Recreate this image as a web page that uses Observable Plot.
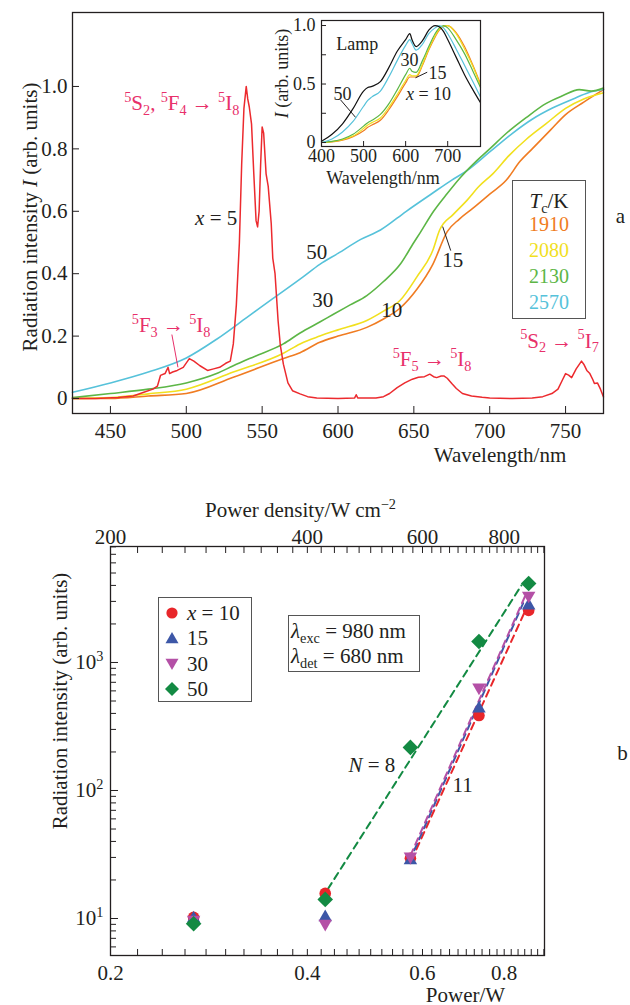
<!DOCTYPE html>
<html><head><meta charset="utf-8">
<script src="https://cdn.jsdelivr.net/npm/d3@7"></script>
<script src="https://cdn.jsdelivr.net/npm/@observablehq/plot@0.6"></script>
<style>
body{margin:0;background:#fff;}
#page{position:relative;width:630px;height:1005px;overflow:hidden;font-family:"Liberation Serif","Times New Roman",serif;color:#231f20;}
#page > svg{position:absolute;}
.box{position:absolute;border:1.3px solid #555;background:#fff;box-sizing:border-box;}
.row{position:absolute;white-space:nowrap;}
sub{font-size:0.68em;vertical-align:-0.32em;line-height:0;}
</style></head><body><div id="page"></div>
<script>
const INK = "#231f20";
const PINK = "#e8306a";
const FONT = "'Liberation Serif','Times New Roman',serif";

// ---------- (a) main spectra ----------
const wlX5 = [425,440,455,465,472,478,481,483,486,488,489,491,494,498,502,505,509,514,518,522,526,529,531,533,535,536.5,538,539.5,540.5,541.5,543,544.5,546,547,548,549,550,551,552.6,554,556,557,558.5,560.5,562,564,567,570,575,580,586,600,611,612,613,625,630,634,639,644,649,653,657,660.5,663,665,668,670,672,675,678,682,688,695,700,715,728,735,741,745,748,750,752,754,757,760.5,762,764,766,768,769,771,773,775];
const intX5 = [0,0,0.003,0.008,0.02,0.03,0.04,0.074,0.08,0.1,0.08,0.085,0.09,0.1,0.128,0.12,0.105,0.09,0.095,0.1,0.113,0.12,0.175,0.3,0.5,0.75,0.93,1.0,0.96,0.935,0.88,0.72,0.57,0.55,0.6,0.75,0.87,0.85,0.72,0.68,0.56,0.45,0.4,0.25,0.17,0.11,0.05,0.025,0.015,0.006,0.002,0,0.002,0.012,0.002,0.002,0.006,0.016,0.035,0.05,0.062,0.068,0.07,0.078,0.07,0.067,0.072,0.072,0.065,0.048,0.032,0.016,0.008,0.004,0.002,0,0.002,0.006,0.016,0.03,0.06,0.08,0.075,0.067,0.095,0.12,0.11,0.09,0.08,0.06,0.048,0.05,0.03,0.005];

const wlX50 = [425,450,475,500,520,540,557,577,588,600,615,628,645,662,675,685,700,715,728,741,755,765,775];
const intX50 = [0.02,0.05,0.085,0.13,0.19,0.26,0.32,0.39,0.43,0.465,0.51,0.54,0.6,0.657,0.7,0.73,0.79,0.85,0.895,0.93,0.96,0.98,0.99];

const wlX30 = [425,450,475,500,520,531,545,564,575,588,597,608,619,630,641,650,654,663,672,681,691,700,711,724,737,748,759,767,775];
const intX30 = [0.003,0.016,0.03,0.05,0.08,0.105,0.135,0.175,0.21,0.245,0.27,0.3,0.33,0.375,0.43,0.5,0.53,0.6,0.657,0.71,0.76,0.8,0.85,0.9,0.945,0.97,0.99,0.985,0.995];

const wlX15 = [425,450,475,500,531,564,575,588,600,619,630,641,652,662.5,667,676,685,693,702,713,724,737,750,762,775];
const intX15 = [0,0.003,0.015,0.03,0.085,0.145,0.175,0.2,0.22,0.25,0.28,0.315,0.39,0.475,0.54,0.59,0.635,0.68,0.72,0.78,0.83,0.88,0.93,0.96,0.98];

const wlX10 = [425,450,475,500,531,564,575,588,600,619,630,641,652,662.5,672,680,689,700,711,720,728,740,750,762,775];
const intX10 = [0,0,0.008,0.016,0.068,0.128,0.147,0.18,0.2,0.228,0.255,0.29,0.35,0.43,0.535,0.575,0.61,0.655,0.7,0.76,0.8,0.86,0.91,0.95,0.99];

const xTicksA = [450,500,550,600,650,700,750];
const yTicksA = [0,0.2,0.4,0.6,0.8,1.0];

// ---------- (a) inset: normalized spectra ----------
const wlInset = [400,425,450,475,500,510,520,540,560,580,600,610,615,625,640,655,670,680,690,700,720,740,760,778];
const insLamp = [0.01,0.07,0.16,0.29,0.44,0.47,0.48,0.52,0.64,0.78,0.88,0.93,0.88,0.82,0.87,0.96,1.0,0.99,0.95,0.88,0.73,0.58,0.45,0.34];
const insX50  = [0,0.03,0.09,0.18,0.31,0.36,0.39,0.44,0.56,0.7,0.83,0.88,0.85,0.79,0.84,0.93,0.98,1.0,0.98,0.93,0.8,0.66,0.52,0.39];
const insX30  = [0,0.01,0.03,0.07,0.14,0.17,0.19,0.24,0.33,0.45,0.58,0.635,0.61,0.6,0.7,0.82,0.93,0.98,1.0,0.98,0.88,0.76,0.61,0.47];
const insX15  = [0,0.008,0.025,0.055,0.12,0.15,0.17,0.21,0.3,0.41,0.53,0.58,0.57,0.57,0.67,0.8,0.91,0.97,0.995,1.0,0.93,0.8,0.65,0.49];
const insX10  = [0,0.005,0.02,0.05,0.1,0.13,0.15,0.19,0.28,0.39,0.51,0.56,0.56,0.56,0.66,0.79,0.9,0.96,0.99,1.0,0.94,0.82,0.66,0.5];
const xTicksIn = [400,500,600,700];
const yTicksIn = [0,0.25,0.5,0.75,1.0];

// ---------- (b) power dependence ----------
const powerW  = [0.268,0.426,0.575,0.732,0.872];
const intB10  = [10.2,15.7,29.5,385,2550];
const intB15  = [10.0,10.2,28.4,437,2786];
const intB30  = [9.8,9.1,30.5,638,3335];
const intB50  = [9.1,14.1,217,1459,4140];
const fitP8 = [0.43,0.85],   fitI8 = [17,4000];
const fitP10 = [0.577,0.862], fitI10 = [28.5,2550];
const fitP15 = [0.573,0.855], fitI15 = [28,2900];
const fitP30 = [0.575,0.862], fitI30 = [31,3340];
const xLabelsB = [0.2,0.4,0.6,0.8];
const yLabelsB = [10,100,1000];
const yMinorB = [6,7,8,9,20,30,40,50,60,70,80,90,200,300,400,500,600,700,800,900,2000,3000,4000,5000,6000,7000,8000];
const xMinorB = d3.range(10,47).map(i => +(i*0.02).toFixed(2));

const tempsK = ["1910","2080","2130","2570"];
const C10="#f07c22", C15="#f1e01e", C30="#5cb646", C50="#56c2da", C5="#ec2a2e";
const tempColors = [C10,C15,C30,C50];
const CB10="#e8262a", CB15="#3d57a7", CB30="#b450a6", CB50="#138a43";

// annotations (data coordinates)
const annA = [
  {x:535, y:0.946, t:"^{5}S_{2}, ^{5}F_{4} → ^{5}I_{8}", c:PINK, a:"end"},
  {x:533.6, y:0.577, t:"*x* = 5", c:INK, a:"end"},
  {x:490, y:0.234, t:"^{5}F_{3} → ^{5}I_{8}", c:PINK, a:"middle"},
  {x:586, y:0.47, t:"50", c:INK, a:"middle"},
  {x:590, y:0.314, t:"30", c:INK, a:"middle"},
  {x:635.5, y:0.282, t:"10", c:INK, a:"middle"},
  {x:675.7, y:0.442, t:"15", c:INK, a:"middle"},
  {x:662, y:0.125, t:"^{5}F_{5} → ^{5}I_{8}", c:PINK, a:"middle"},
  {x:746, y:0.184, t:"^{5}S_{2} → ^{5}I_{7}", c:PINK, a:"middle"}
];
const leadA = [
  {x1:490.5, y1:0.205, x2:494.5, y2:0.1, c:PINK},
  {x1:669, y1:0.551, x2:674.3, y2:0.474, c:INK}
];
const annIn = [
  {x:484.9, y:0.844, t:"Lamp"},
  {x:609.2, y:0.701, t:"30"},
  {x:675.8, y:0.59, t:"15"},
  {x:654.3, y:0.41, t:"*x* = 10"},
  {x:449.9, y:0.41, t:"50"}
];
const leadIn = [
  {x1:623.4, y1:0.553, x2:651.3, y2:0.601},
  {x1:445.2, y1:0.365, x2:480.8, y2:0.216}
];
const annB = [
  {x:0.502, y:156.8, t:"*N* = 8"},
  {x:0.691, y:109.4, t:"11"}
];

// ---------- helpers ----------
const page = document.getElementById("page");
const rows = (xs, ys) => xs.map((x,i) => ({x, y: ys[i]}));
function place(svg, left, top) { svg.style.left = left+"px"; svg.style.top = top+"px"; page.appendChild(svg); richify(svg); }
function richify(svg) {
  svg.querySelectorAll("text").forEach(t => {
    const s = t.textContent;
    if (!/[\^_]\{|\*/.test(s)) return;
    const fs = parseFloat(getComputedStyle(t).fontSize) || 16;
    while (t.firstChild) t.removeChild(t.firstChild);
    const re = /\^\{([^}]*)\}|_\{([^}]*)\}|\*([^*]*)\*|([^\^_*]+|[\^_*])/g;
    let shift = 0, m;
    while ((m = re.exec(s))) {
      let txt, target = 0, size = null, ital = false;
      if (m[1] !== undefined) { txt = m[1]; target = fs*0.4; size = fs*0.68; }
      else if (m[2] !== undefined) { txt = m[2]; target = -fs*0.22; size = fs*0.68; }
      else if (m[3] !== undefined) { txt = m[3]; ital = true; }
      else txt = m[4];
      const ts = document.createElementNS("http://www.w3.org/2000/svg","tspan");
      const dy = shift - target;
      if (dy) ts.setAttribute("dy", dy.toFixed(2));
      shift = target;
      if (size) ts.setAttribute("font-size", size.toFixed(2));
      if (ital) ts.setAttribute("font-style","italic");
      ts.textContent = txt;
      t.appendChild(ts);
    }
  });
}
const baseStyle = (fs) => ({fontFamily: FONT, fontSize: fs+"px", background: "transparent", color: INK, overflow: "visible"});
function annMarks(list, fs, extra={}) {
  return ["start","middle","end"].map(a => Plot.text(list.filter(d => (d.a||"middle") === a), {
    x:"x", y:"y", text:"t", fill: d => d.c || INK, textAnchor: a, lineAnchor: "middle", fontSize: fs, ...extra
  }));
}
// a free-standing label anchored to the frame, always centred on its point
const label = (txt, frameAnchor, dx, dy, fs, extra={}) => Plot.text([txt], {
  text: d => d, frameAnchor, dx, dy, fontSize: fs, fill: INK, textAnchor: "middle", lineAnchor: "middle", ...extra
});

// ---------- chart (a) ----------
const lineA = (xs, ys, color, curve="monotone-x", w=1.6) => Plot.line(rows(xs, ys), {x:"x", y:"y", stroke: color, strokeWidth: w, curve});
const plotA = Plot.plot({
  width: 630, height: 470,
  marginLeft: 72, marginRight: 27, marginTop: 12, marginBottom: 57,
  x: {domain: [425, 775]},
  y: {domain: [-0.048, 1.237]},
  color: {type: "identity"},
  style: baseStyle(21),
  marks: [
    lineA(wlX10, intX10, C10),
    lineA(wlX15, intX15, C15),
    lineA(wlX50, intX50, C50),
    lineA(wlX30, intX30, C30),
    lineA(wlX5, intX5, C5, "linear", 1.5),
    Plot.frame({stroke: INK, strokeWidth: 1.3}),
    Plot.axisX({ticks: xTicksA, anchor: "bottom", tickSize: -7, tickPadding: 17, label: null, fontSize: 21}),
    Plot.axisY({ticks: yTicksA, anchor: "left", tickSize: -7, tickPadding: 12, label: null, fontSize: 21,
      tickFormat: d => d === 0 ? "0" : d.toFixed(1)}),
    Plot.link(leadA, {x1:"x1", y1:"y1", x2:"x2", y2:"y2", stroke: d => d.c, strokeWidth: 1}),
    ...annMarks(annA, 21),
    label("Radiation intensity *I* (arb. units)", "left", -42, 4, 21, {rotate: -90}),
    label("Wavelength/nm", "bottom", 162, 42, 21),
    label("a", "right", 17, 3, 21)
  ]
});
place(plotA, 0, 0);

// ---------- inset ----------
const lineIn = (ys, color) => Plot.line(rows(wlInset, ys), {x:"x", y:"y", stroke: color, strokeWidth: 1.2, curve: "monotone-x"});
const plotIn = Plot.plot({
  width: 240, height: 195,
  marginLeft: 61, marginRight: 20, marginTop: 20, marginBottom: 49,
  x: {domain: [400, 778]},
  y: {domain: [-0.034, 1.043]},
  color: {type: "identity"},
  style: baseStyle(18),
  marks: [
    Plot.frame({fill: "white", stroke: null}),
    lineIn(insX10, C10),
    lineIn(insX15, C15),
    lineIn(insX30, C30),
    lineIn(insX50, C50),
    lineIn(insLamp, "#111"),
    Plot.frame({stroke: INK, strokeWidth: 1.2}),
    Plot.axisX({ticks: xTicksIn, anchor: "bottom", tickSize: -5, tickPadding: 8, label: null, fontSize: 18}),
    Plot.axisY({ticks: yTicksIn, anchor: "left", tickSize: -5, tickPadding: 11, label: null, fontSize: 18,
      tickFormat: d => d === 0 ? "0" : d === 0.5 ? "0.5" : d === 1 ? "1.0" : ""}),
    Plot.link(leadIn, {x1:"x1", y1:"y1", x2:"x2", y2:"y2", stroke: INK, strokeWidth: 1}),
    ...annMarks(annIn, 18),
    label("*I* (arb. units)", "left", -39, -10, 18, {rotate: -90}),
    label("Wavelength/nm", "bottom", -18, 32, 18)
  ]
});
place(plotIn, 260, 0);

// ---------- chart (b) ----------
const triDown = {draw(ctx, size) { const y = Math.sqrt(size / (Math.sqrt(3) * 3)); const s3 = Math.sqrt(3);
  ctx.moveTo(0, 2*y); ctx.lineTo(-s3*y, -y); ctx.lineTo(s3*y, -y); ctx.closePath(); }};
const diamondSq = {draw(ctx, size) { const h = Math.sqrt(size) * 0.8;
  ctx.moveTo(0, -h); ctx.lineTo(h, 0); ctx.lineTo(0, h); ctx.lineTo(-h, 0); ctx.closePath(); }};
const dash = (xs, ys, color) => Plot.line(rows(xs, ys), {x:"x", y:"y", stroke: color, strokeWidth: 2, strokeDasharray: "7,5"});
const plotB = Plot.plot({
  width: 630, height: 535,
  marginLeft: 110, marginRight: 86, marginTop: 76, marginBottom: 50,
  x: {type: "log", domain: [0.2, 0.922]},
  y: {type: "log", domain: [5.14, 8054]},
  style: baseStyle(21),
  marks: [
    dash(fitP8, fitI8, CB50),
    dash(fitP10, fitI10, CB10),
    dash(fitP15, fitI15, CB15),
    dash(fitP30, fitI30, CB30),
    Plot.dot(rows(powerW, intB10), {x:"x", y:"y", symbol: "circle", r: 5.8, fill: CB10}),
    Plot.dot(rows(powerW, intB15), {x:"x", y:"y", symbol: "triangle", r: 5, fill: CB15}),
    Plot.dot(rows(powerW, intB30), {x:"x", y:"y", symbol: triDown, r: 5, fill: CB30}),
    Plot.dot(rows(powerW, intB50), {x:"x", y:"y", symbol: diamondSq, r: 5.5, fill: CB50}),
    Plot.frame({stroke: INK, strokeWidth: 1.3}),
    Plot.axisX({ticks: xMinorB, anchor: "bottom", tickSize: -6, tickFormat: () => "", label: null}),
    Plot.axisX({ticks: xMinorB, anchor: "top", tickSize: -6, tickFormat: () => "", label: null}),
    Plot.axisX({ticks: xLabelsB, anchor: "bottom", tickSize: 0, tickPadding: 10, label: null, fontSize: 21, tickFormat: d => d.toFixed(1)}),
    Plot.axisX({ticks: xLabelsB, anchor: "top", tickSize: 0, tickPadding: 3, label: null, fontSize: 21, tickFormat: d => String(Math.round(d*1000))}),
    Plot.axisY({ticks: yMinorB, anchor: "left", tickSize: -6, tickFormat: () => "", label: null}),
    Plot.axisY({ticks: yLabelsB, anchor: "left", tickSize: -8, tickPadding: 15, label: null, fontSize: 21,
      tickFormat: d => `10^{${Math.round(Math.log10(d))}}`}),
    Plot.text(annB, {x:"x", y:"y", text:"t", fontSize: 21, fill: INK}),
    label("Radiation intensity (arb. units)", "left", -50, -50, 21, {rotate: -90}),
    label("Power density/W cm^{−2}", "top", -27, -36, 21),
    label("Power/W", "bottom", 138, 40, 21),
    label("b", "right", 78, 2, 21)
  ]
});
place(plotB, 0, 470);

// ---------- HTML legends ----------
function box(left, top, w, h) {
  const d = document.createElement("div"); d.className = "box";
  Object.assign(d.style, {left: left+"px", top: top+"px", width: w+"px", height: h+"px"});
  page.appendChild(d); return d;
}
function row(parent, html, cy, opts={}) {
  const r = document.createElement("div"); r.className = "row"; r.innerHTML = html;
  const lh = opts.lh || 24;
  Object.assign(r.style, {top: (cy - lh/2) + "px", lineHeight: lh + "px", fontSize: (opts.fs || 20) + "px"});
  if (opts.center) Object.assign(r.style, {left: "0", width: "100%", textAlign: "center"});
  else r.style.left = (opts.left || 0) + "px";
  if (opts.color) r.style.color = opts.color;
  parent.appendChild(r); return r;
}
// Tc legend
const tcBox = box(512, 180, 74, 139);
row(tcBox, "<i>T</i><sub>c</sub>/K", 20, {center: true, fs: 21});
tempsK.forEach((t, i) => row(tcBox, t, 43 + i*26, {center: true, fs: 20, color: tempColors[i]}));

// (b) legend
const seriesB = [
  {label: "<i>x</i> = 10", color: CB10, shape: "circle"},
  {label: "15", color: CB15, shape: "up"},
  {label: "30", color: CB30, shape: "down"},
  {label: "50", color: CB50, shape: "diamond"}
];
const shapeSvg = (shape, color) => {
  const p = shape === "circle" ? `<circle cx="7" cy="7" r="5.6" fill="${color}"/>`
    : shape === "up" ? `<path d="M7,1 L13.5,12.2 L0.5,12.2Z" fill="${color}"/>`
    : shape === "down" ? `<path d="M7,13 L13.5,1.8 L0.5,1.8Z" fill="${color}"/>`
    : `<path d="M7,0 L14,7 L7,14 L0,7Z" fill="${color}"/>`;
  return `<svg width="14" height="14" style="position:absolute;left:-22px;top:5px">${p}</svg>`;
};
const lgB = box(158, 597, 94, 105);
seriesB.forEach((s, i) => {
  const r = row(lgB, s.label, [15, 40, 66, 91][i], {left: 28, fs: 21});
  r.insertAdjacentHTML("afterbegin", shapeSvg(s.shape, s.color));
});
// excitation / detection box
const lamBox = box(288, 615, 132, 57);
row(lamBox, "<i>λ</i><sub>exc</sub> = 980 nm", 15, {left: 2, fs: 21});
row(lamBox, "<i>λ</i><sub>det</sub> = 680 nm", 40, {left: 2, fs: 21});
</script></body></html>
